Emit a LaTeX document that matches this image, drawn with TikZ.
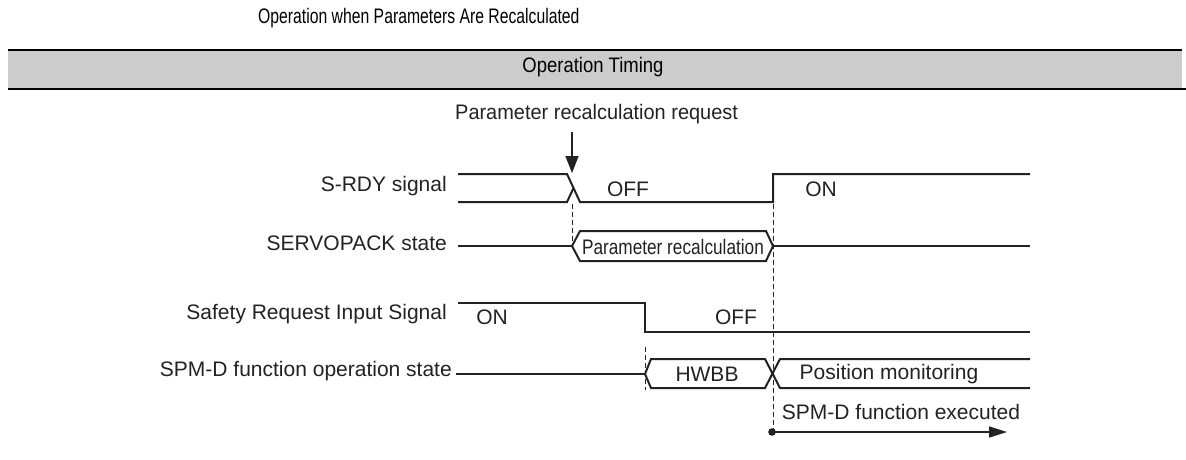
\documentclass[tikz,border=0pt]{standalone}
\usepackage{fontspec}
\setmainfont{Liberation Sans}
\usetikzlibrary{arrows.meta}
\definecolor{ln}{HTML}{222222}
\definecolor{band}{HTML}{CCCCCC}
\begin{document}
\begin{tikzpicture}[x=1pt,y=-1pt,
  sig/.style={line width=2pt, draw=ln, line join=miter},
  dsh/.style={line width=0.9pt, draw=ln, dash pattern=on 5pt off 3pt},
  txt/.style={inner sep=0pt, font=\fontsize{21}{25}\selectfont, text=ln},
  rule/.style={line width=2.7pt, draw=black}]
\useasboundingbox (0,0) rectangle (1186,459);
% header
\fill[band] (8,50) rectangle (1182,89);
\draw[rule] (8,50) -- (1182,50);
\draw[rule] (8,89) -- (1186,89);
\node[inner sep=0pt, text=black, font=\fontsize{21}{25}\selectfont, anchor=mid west] (title) at (258,21) {\scalebox{0.75}[1]{Operation when Parameters Are Recalculated}};
\node[inner sep=0pt, text=black, font=\fontsize{21}{25}\selectfont, anchor=mid] (timing) at (593,70) {\scalebox{0.88}[1]{Operation Timing}};
% request
\node[inner sep=0pt, text=ln, font=\fontsize{21}{25}\selectfont, anchor=mid west] (req) at (455,117) {\scalebox{0.95}[1]{Parameter recalculation request}};
\coordinate (reqa) at (572,132);
\coordinate (reqb) at (572,173);
\draw[line width=1.5pt, draw=ln, -{Triangle[length=17pt,width=13pt]}] (reqa) -- (reqb);
% labels
\node[txt, anchor=mid east] (l1) at (447,189) {S-RDY signal};
\node[txt, anchor=mid east] (l2) at (447,248) {SERVOPACK state};
\node[txt, anchor=mid east] (l3) at (447,317) {Safety Request Input Signal};
\node[txt, anchor=mid east] (l4) at (452,374) {SPM-D function operation state};
% S-RDY
\draw[sig] (458,174) -- (567,174) -- (580,202) -- (773,202) -- (773,174) -- (1030,174);
\draw[sig] (458,202) -- (567,202) -- (573.5,188);
\node[txt] (off1) at (628,189) {OFF};
\node[txt] (on1) at (821,189) {ON};
% SERVOPACK state
\draw[sig] (458,246) -- (572,246);
\draw[sig] (572,246) -- (580,231) -- (766,231) -- (773,246) -- (766,261) -- (580,261) -- cycle;
\draw[sig] (773,246) -- (1030,246);
\node[txt] (prc) at (673,247) {\scalebox{0.82}[1]{Parameter recalculation}};
% dashed
\draw[dsh] (572,204) -- (572,246);
\draw[dsh] (773,204) -- (773,432);
\draw[dsh] (645,347) -- (645,390);
% Safety request
\draw[sig] (458,303) -- (645,303) -- (645,332) -- (1030,332);
\node[txt] (on2) at (492,317) {ON};
\node[txt] (off2) at (736,317) {OFF};
% SPM-D state
\draw[sig] (456,374) -- (645,374);
\draw[sig] (1030,388) -- (780,388) -- (765,359) -- (651,359) -- (645,374) -- (651,388) -- (765,388) -- (780,359) -- (1030,359);
\node[txt] (hwbb) at (707,374) {HWBB};
\node[txt] (pm) at (889,374) {Position monitoring};
% executed
\node[txt] (exe) at (901,412) {SPM-D function executed};
\coordinate (d0) at (772,432);
\coordinate (d1) at (1007,432);
\fill[ln] (d0) circle (3.8pt);
\draw[line width=1.5pt, draw=ln, -{Triangle[length=18pt,width=11pt]}] (d0) -- (d1);
\end{tikzpicture}
\end{document}
